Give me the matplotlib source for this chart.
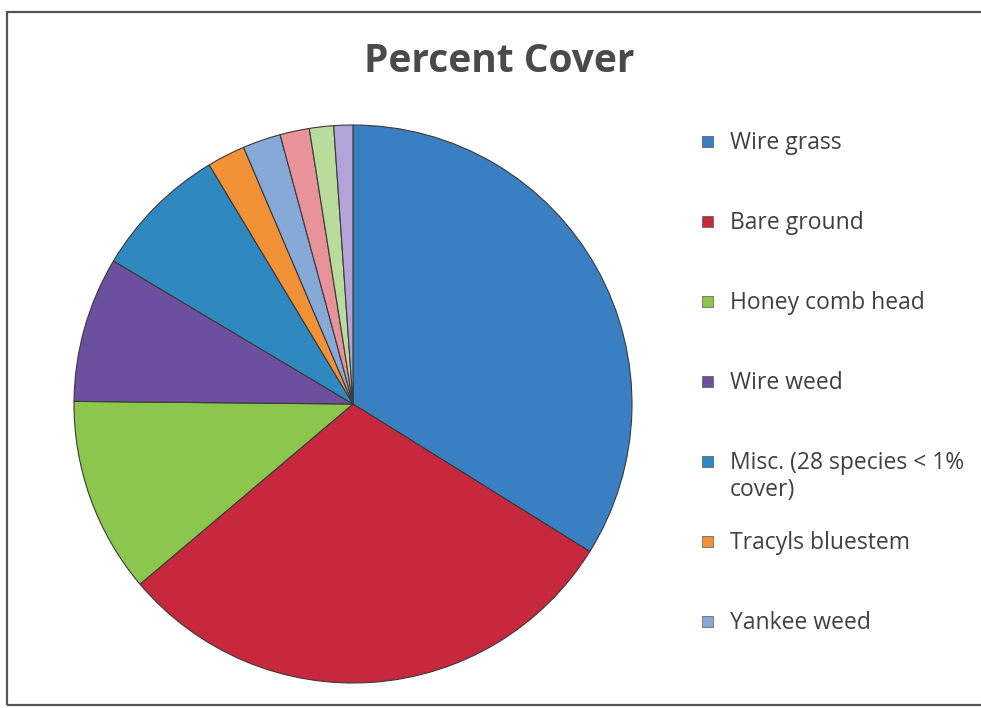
import matplotlib.pyplot as plt
from matplotlib.patches import Rectangle

# Percent cover by species (clockwise from 12 o'clock)
species = [
    "Wire grass",
    "Bare ground",
    "Honey comb head",
    "Wire weed",
    "Misc. (28 species < 1%\ncover)",
    "Tracyls bluestem",
    "Yankee weed",
    "Species 8",
    "Species 9",
    "Species 10",
]
cover = [33.8, 29.9, 11.3, 8.4, 7.8, 2.2, 2.2, 1.7, 1.4, 1.1]
colors = [
    "#3a7fc1", "#c8283e", "#8cc64c", "#6c4f9e", "#2f88bf",
    "#f39136", "#86a9d8", "#e8929a", "#b9dc9c", "#b3a3d9",
]
n_legend = 7  # only the first seven entries fit in the legend

plt.rcParams["font.family"] = ["Open Sans", "DejaVu Sans"]

W, H = 981, 708
fig = plt.figure(figsize=(W / 100, H / 100), dpi=100)

# outer chart frame
fig.patches.append(Rectangle((7 / W, 3 / H), 1.0, 1 - 15 / H,
                             transform=fig.transFigure, fill=False,
                             edgecolor="#555555", linewidth=1.6))

# pie axes: centre (353, 404) px, radius ~279 px
cx, cy, r = 353, 404, 279
ax = fig.add_axes([(cx - r) / W, (H - cy - r) / H, 2 * r / W, 2 * r / H])
ax.pie(cover, colors=colors, startangle=90, counterclock=False,
       wedgeprops=dict(edgecolor="#3a3a3a", linewidth=0.8))
ax.set_xlim(-1.0, 1.0)
ax.set_ylim(-1.0, 1.0)
ax.set_aspect("equal")
ax.axis("off")

fig.text(499 / W, 1 - 61 / H, "Percent Cover", ha="center", va="center",
         fontsize=28, fontweight="bold", color="#4a4a4a")

# legend, one row every 80 px
for i in range(n_legend):
    y = 141 + 80 * i
    fig.patches.append(Rectangle((702 / W, 1 - (y + 6) / H), 11 / W, 11 / H,
                                 transform=fig.transFigure,
                                 facecolor=colors[i], edgecolor="#555555",
                                 linewidth=0.5))
    fig.text(730 / W, 1 - (y - 10) / H, species[i], ha="left", va="top",
             fontsize=16.5, color="#404040", linespacing=1.15)

fig.savefig("out.png", dpi=100, facecolor="white")
